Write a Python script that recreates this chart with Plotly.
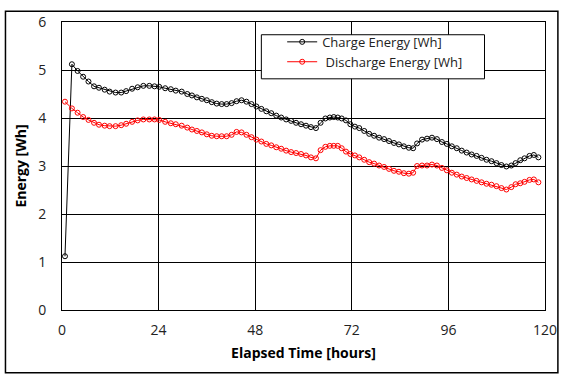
import plotly.graph_objects as go

# Elapsed time [hours] (shared sample times for both series)
hours = [0.74, 2.46, 3.87, 5.25, 6.58, 7.96, 9.19, 10.60, 11.83, 13.31, 14.71, 15.94,
         17.42, 18.80, 20.21, 21.69, 22.99, 24.15, 25.63, 27.03, 28.27, 29.74, 31.12,
         32.28, 33.51, 34.75, 35.98, 37.21, 38.44, 39.67, 40.91, 42.14, 43.37, 44.60,
         45.83, 47.07, 48.30, 49.53, 50.76, 51.99, 53.23, 54.46, 55.69, 56.92, 58.16,
         59.39, 60.62, 61.85, 63.09, 64.24, 65.43, 66.54, 67.52, 68.51, 69.49, 70.55,
         71.64, 72.77, 73.85, 75.09, 76.32, 77.55, 78.78, 80.02, 81.25, 82.48, 83.71,
         84.94, 86.18, 87.24, 88.22, 89.45, 90.69, 91.92, 93.15, 94.38, 95.61, 96.85,
         98.08, 99.31, 100.54, 101.77, 103.01, 104.24, 105.47, 106.70, 107.94, 109.17,
         110.40, 111.63, 112.69, 113.85, 114.91, 116.14, 117.23, 118.36]

charge_wh = [1.12, 5.12, 4.98, 4.86, 4.76, 4.66, 4.63, 4.59, 4.55, 4.53, 4.53, 4.56,
             4.61, 4.64, 4.67, 4.67, 4.66, 4.65, 4.62, 4.60, 4.57, 4.55, 4.50,
             4.47, 4.43, 4.40, 4.37, 4.33, 4.30, 4.29, 4.29, 4.31, 4.35, 4.37,
             4.34, 4.29, 4.24, 4.19, 4.14, 4.10, 4.05, 4.01, 3.97, 3.94, 3.90,
             3.87, 3.84, 3.81, 3.79, 3.90, 3.99, 4.01, 4.02, 4.01, 3.99, 3.95,
             3.87, 3.82, 3.79, 3.73, 3.67, 3.63, 3.59, 3.56, 3.52, 3.48, 3.45,
             3.41, 3.38, 3.37, 3.47, 3.55, 3.57, 3.59, 3.56, 3.50, 3.46, 3.41,
             3.37, 3.32, 3.28, 3.24, 3.21, 3.17, 3.13, 3.10, 3.06, 3.02,
             2.99, 3.01, 3.06, 3.12, 3.16, 3.21, 3.23, 3.18]

discharge_wh = [4.34, 4.20, 4.11, 4.02, 3.96, 3.90, 3.86, 3.84, 3.83, 3.83, 3.85, 3.88,
                3.92, 3.95, 3.97, 3.97, 3.97, 3.96, 3.92, 3.89, 3.87, 3.84, 3.80,
                3.76, 3.73, 3.70, 3.66, 3.63, 3.62, 3.62, 3.62, 3.65, 3.71, 3.70,
                3.65, 3.60, 3.55, 3.51, 3.46, 3.43, 3.39, 3.36, 3.32, 3.29, 3.27,
                3.25, 3.22, 3.18, 3.16, 3.33, 3.40, 3.42, 3.42, 3.42, 3.37, 3.30,
                3.25, 3.22, 3.18, 3.13, 3.08, 3.05, 3.01, 2.98, 2.94, 2.90, 2.88,
                2.85, 2.84, 2.86, 3.00, 3.01, 3.01, 3.03, 3.01, 2.96, 2.91, 2.86,
                2.82, 2.78, 2.75, 2.72, 2.69, 2.66, 2.63, 2.61, 2.58, 2.54,
                2.51, 2.56, 2.62, 2.64, 2.67, 2.71, 2.72, 2.66]

x_ticks = [0, 24, 48, 72, 96, 120]
y_ticks = [0, 1, 2, 3, 4, 5, 6]

FONT = "Open Sans"

fig = go.Figure()
fig.add_trace(go.Scatter(
    x=hours, y=charge_wh, name="Charge Energy [Wh]", mode="lines+markers",
    line=dict(color="black", width=1),
    marker=dict(symbol="circle-open", size=5, color="black", line=dict(width=1)),
))
fig.add_trace(go.Scatter(
    x=hours, y=discharge_wh, name=" Discharge Energy [Wh]", mode="lines+markers",
    line=dict(color="red", width=1),
    marker=dict(symbol="circle-open", size=5, color="red", line=dict(width=1)),
))

W, H = 569, 380
L, R, T, B = 62, 20, 16, 70
pw, ph = W - L - R, H - T - B

def px2paper(px, py):
    return (px - L) / pw, (H - B - py) / ph

# outer frame
fx0, fy0 = px2paper(5, 374)
fx1, fy1 = px2paper(562, 5)
# legend box
lx0, ly0 = px2paper(263, 74)
lx1, ly1 = px2paper(488, 29)
legx, legy = px2paper(284, 21)

fig.update_layout(
    width=W, height=H,
    margin=dict(l=L, r=R, t=T, b=B),
    paper_bgcolor="white", plot_bgcolor="white",
    font=dict(family=FONT, color="#222", size=13),
    showlegend=True,
    legend=dict(x=legx, y=legy, xanchor="left", yanchor="top",
                bgcolor="rgba(0,0,0,0)", borderwidth=0,
                font=dict(family=FONT, size=13, color="#222"),
                tracegroupgap=0, itemwidth=30),
    shapes=[
        dict(type="rect", xref="paper", yref="paper", x0=fx0, y0=fy0, x1=fx1, y1=fy1,
             line=dict(color="black", width=1.5), fillcolor="rgba(0,0,0,0)", layer="below"),
        dict(type="rect", xref="paper", yref="paper", x0=lx0, y0=ly0, x1=lx1, y1=ly1,
             line=dict(color="black", width=1), fillcolor="white", layer="above"),
    ],
    xaxis=dict(
        range=[0, 120], tickvals=x_ticks, ticktext=[str(v) for v in x_ticks],
        showgrid=True, gridcolor="black", gridwidth=1,
        showline=True, linecolor="black", linewidth=1, mirror=True,
        ticks="outside", ticklen=7, tickcolor="rgba(0,0,0,0)",
        tickfont=dict(size=14, family=FONT, color="#222"),
        zeroline=False,
        title=dict(text="Elapsed Time [hours]", standoff=10,
                   font=dict(size=14, family=FONT, color="black", weight="bold")),
    ),
    yaxis=dict(
        range=[0, 6], tickvals=y_ticks, ticktext=[str(v) for v in y_ticks],
        showgrid=True, gridcolor="black", gridwidth=1,
        showline=True, linecolor="black", linewidth=1, mirror=True,
        ticks="outside", ticklen=12, tickcolor="rgba(0,0,0,0)",
        tickfont=dict(size=14, family=FONT, color="#222"),
        zeroline=False,
        title=dict(text="Energy [Wh]", standoff=8,
                   font=dict(size=14, family=FONT, color="black", weight="bold")),
    ),
)

fig.write_html("out.html", config={"displayModeBar": False},
               post_script="document.body.style.margin='0';document.body.style.padding='0';")
